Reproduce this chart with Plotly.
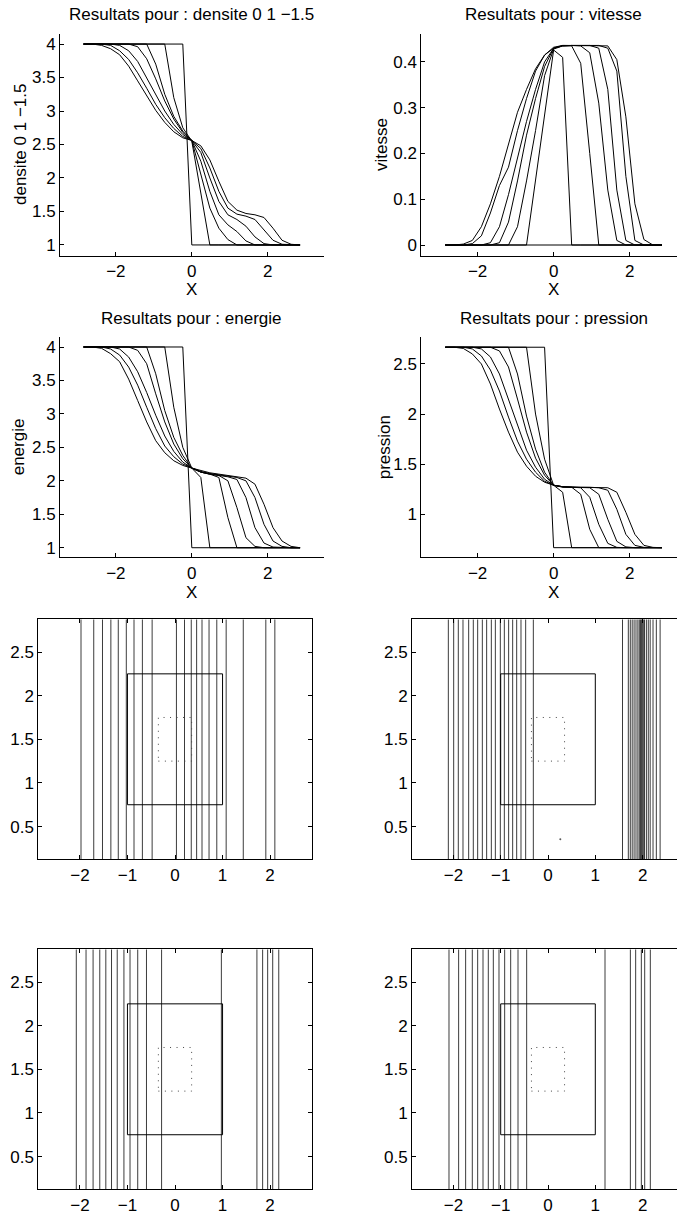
import plotly.graph_objects as go

# ---- 1D profiles: grid and curves (one list per time step) ----
X = [-2.85, -2.6125, -2.375, -2.1375, -1.9, -1.6625, -1.425, -1.1875, -0.95, -0.7125,
     -0.475, -0.2375, 0.0, 0.2375, 0.475, 0.7125, 0.95, 1.1875, 1.425, 1.6625,
     1.9, 2.1375, 2.375, 2.6125, 2.85]

DENSITE = [
    [4, 4, 4, 4, 4, 4, 4, 4, 4, 4, 4, 4, 1, 1, 1, 1, 1, 1, 1, 1, 1, 1, 1, 1, 1],
    [4, 4, 4, 4, 4, 4, 4, 4, 4, 4, 3.2, 2.75, 2.55, 1.75, 1, 1, 1, 1, 1, 1, 1, 1, 1, 1, 1],
    [4, 4, 4, 4, 4, 4, 4, 4, 3.7, 3.25, 2.92, 2.7, 2.56, 2.05, 1.55, 1.25, 1.08, 1, 1, 1, 1, 1, 1, 1, 1],
    [4, 4, 4, 4, 4, 4, 3.96, 3.78, 3.48, 3.15, 2.88, 2.68, 2.56, 2.25, 1.8, 1.45, 1.3, 1.2, 1.06, 1, 1, 1, 1, 1, 1],
    [4, 4, 4, 4, 3.98, 3.9, 3.74, 3.5, 3.24, 3.0, 2.8, 2.65, 2.56, 2.38, 2.0, 1.65, 1.45, 1.38, 1.28, 1.12, 1.02, 1, 1, 1, 1],
    [4, 4, 4, 3.98, 3.9, 3.77, 3.57, 3.34, 3.1, 2.9, 2.74, 2.62, 2.56, 2.44, 2.15, 1.8, 1.55, 1.46, 1.43, 1.38, 1.22, 1.07, 1.01, 1, 1],
    [4, 4, 3.98, 3.93, 3.84, 3.67, 3.45, 3.22, 3.01, 2.83, 2.69, 2.6, 2.56, 2.48, 2.27, 1.95, 1.65, 1.52, 1.47, 1.45, 1.41, 1.25, 1.07, 1.01, 1],
]

VITESSE = [
    [0] * 25,
    [0, 0, 0, 0, 0, 0, 0, 0, 0, 0, 0.142, 0.284, 0.426, 0.41, 0, 0, 0, 0, 0, 0, 0, 0, 0, 0, 0],
    [0, 0, 0, 0, 0, 0, 0, 0, 0.04, 0.14, 0.25, 0.37, 0.428, 0.435, 0.435, 0.397, 0.2, 0, 0, 0, 0, 0, 0, 0, 0],
    [0, 0, 0, 0, 0, 0, 0.005, 0.05, 0.14, 0.24, 0.32, 0.39, 0.43, 0.435, 0.436, 0.435, 0.42, 0.31, 0.12, 0.01, 0, 0, 0, 0, 0],
    [0, 0, 0, 0, 0, 0.005, 0.04, 0.11, 0.19, 0.27, 0.34, 0.4, 0.43, 0.435, 0.436, 0.436, 0.436, 0.43, 0.34, 0.12, 0.01, 0, 0, 0, 0],
    [0, 0, 0, 0.003, 0.02, 0.07, 0.13, 0.17, 0.25, 0.32, 0.38, 0.415, 0.432, 0.436, 0.436, 0.436, 0.436, 0.436, 0.43, 0.38, 0.15, 0.01, 0, 0, 0],
    [0, 0, 0.002, 0.01, 0.04, 0.09, 0.15, 0.22, 0.29, 0.34, 0.385, 0.415, 0.43, 0.436, 0.436, 0.436, 0.436, 0.436, 0.435, 0.405, 0.28, 0.09, 0.012, 0, 0],
]

ENERGIE = [
    [4, 4, 4, 4, 4, 4, 4, 4, 4, 4, 4, 4, 1, 1, 1, 1, 1, 1, 1, 1, 1, 1, 1, 1, 1],
    [4, 4, 4, 4, 4, 4, 4, 4, 4, 4, 3.1, 2.5, 2.19, 2.05, 1, 1, 1, 1, 1, 1, 1, 1, 1, 1, 1],
    [4, 4, 4, 4, 4, 4, 4, 4, 3.6, 3.05, 2.65, 2.38, 2.19, 2.13, 2.1, 2.05, 1.45, 1, 1, 1, 1, 1, 1, 1, 1],
    [4, 4, 4, 4, 4, 4, 3.95, 3.75, 3.3, 2.88, 2.55, 2.33, 2.19, 2.13, 2.1, 2.08, 2.0, 1.6, 1.15, 1.02, 1, 1, 1, 1, 1],
    [4, 4, 4, 4, 3.97, 3.85, 3.63, 3.32, 2.98, 2.67, 2.44, 2.28, 2.19, 2.13, 2.1, 2.08, 2.06, 2.02, 1.75, 1.3, 1.07, 1.01, 1, 1, 1],
    [4, 4, 4, 3.97, 3.88, 3.7, 3.43, 3.1, 2.78, 2.52, 2.36, 2.25, 2.19, 2.14, 2.11, 2.09, 2.07, 2.05, 2.0, 1.75, 1.35, 1.1, 1.02, 1, 1],
    [4, 4, 3.98, 3.9, 3.78, 3.52, 3.2, 2.88, 2.6, 2.42, 2.3, 2.23, 2.19, 2.15, 2.12, 2.1, 2.08, 2.06, 2.04, 1.95, 1.65, 1.3, 1.1, 1.02, 1],
]

PRESSION = [
    [2.667] * 12 + [0.667] * 13,
    [2.667] * 10 + [2.0, 1.55, 1.29, 1.22] + [0.667] * 11,
    [2.667] * 8 + [2.4, 1.98, 1.65, 1.42, 1.29, 1.27, 1.27, 1.2, 0.85, 0.667, 0.667, 0.667, 0.667, 0.667, 0.667, 0.667, 0.667],
    [2.667] * 6 + [2.63, 2.47, 2.15, 1.82, 1.56, 1.39, 1.29, 1.275, 1.27, 1.265, 1.17, 0.9, 0.71, 0.67, 0.667, 0.667, 0.667, 0.667, 0.667],
    [2.667] * 4 + [2.65, 2.57, 2.4, 2.15, 1.88, 1.64, 1.47, 1.35, 1.29, 1.275, 1.27, 1.27, 1.265, 1.2, 0.95, 0.73, 0.675, 0.667, 0.667, 0.667, 0.667],
    [2.667] * 3 + [2.65, 2.58, 2.44, 2.23, 1.97, 1.73, 1.55, 1.42, 1.33, 1.29, 1.275, 1.27, 1.27, 1.27, 1.265, 1.24, 1.05, 0.8, 0.69, 0.67, 0.667, 0.667],
    [2.667] * 2 + [2.655, 2.6, 2.5, 2.3, 2.05, 1.82, 1.62, 1.48, 1.38, 1.32, 1.29, 1.275, 1.27, 1.27, 1.27, 1.27, 1.265, 1.22, 1.02, 0.8, 0.69, 0.67, 0.667],
]

# ---- 2D maps: positions of the (vertical) iso-lines, mesh extent, boxes ----
MESH_X = [-2.875, 2.875]
MESH_Y = [0.125, 2.875]
RECT_SOLID = [-1.0, 1.0, 0.75, 2.25]
RECT_DOTTED = [-0.35, 0.35, 1.25, 1.75]

ISO_3 = [-1.977, -1.709, -1.525, -1.349, -1.193, -1.024, -0.862, -0.686, -0.481, 0.03,
         0.2, 0.342, 0.455, 0.568, 0.716, 0.879, 1.076, 1.436, 1.91, 2.1]
ISO_4 = [-2.107, -1.994, -1.896, -1.797, -1.677, -1.579, -1.487, -1.388, -1.297, -1.198,
         -1.113, -1.008, -0.923, -0.832, -0.747, -0.662, -0.571, -0.472, -0.31,
         1.575, 1.698, 1.74, 1.78, 1.82, 1.86, 1.9, 1.93, 1.955, 1.975, 1.995, 2.015,
         2.04, 2.08, 2.12, 2.16, 2.22, 2.29, 2.37]
ISO_5 = [-2.076, -1.871, -1.723, -1.582, -1.455, -1.335, -1.215, -1.074, -0.946, -0.784,
         -0.6, -0.282, 0.975, 1.723, 1.843, 1.949, 2.055, 2.182]
ISO_6 = [-2.093, -1.889, -1.741, -1.6, -1.487, -1.374, -1.262, -1.156, -1.036, -0.916,
         -0.789, -0.634, -0.451, 1.205, 1.741, 1.853, 1.973, 2.044, 2.163]
STRAY_4 = ([0.26], [0.355])

W, H = 677, 1220
FONT = 'Liberation Sans, Arial, Helvetica, sans-serif'
FS = 17


def px_x(a, b):
    return [a / W, b / W]


def px_y(top, bottom):
    return [1 - bottom / H, 1 - top / H]


fig = go.Figure()

profile_panels = [
    (1, DENSITE), (2, VITESSE), (3, ENERGIE), (4, PRESSION),
]
for idx, curves in profile_panels:
    for c in curves:
        fig.add_trace(go.Scatter(
            x=X, y=c, mode='lines', line=dict(color='black', width=1),
            xaxis=f'x{idx}', yaxis=f'y{idx}', showlegend=False, hoverinfo='skip'))


def rect_path(r):
    x0, x1, y0, y1 = r
    return [x0, x1, x1, x0, x0], [y0, y0, y1, y1, y0]


map_panels = [(5, ISO_3), (6, ISO_4), (7, ISO_5), (8, ISO_6)]
for idx, iso in map_panels:
    xs, ys = [], []
    for v in iso:
        xs += [v, v, None]
        ys += [MESH_Y[0], MESH_Y[1], None]
    fig.add_trace(go.Scatter(
        x=xs, y=ys, mode='lines', line=dict(color='rgb(60,60,60)', width=1),
        xaxis=f'x{idx}', yaxis=f'y{idx}', showlegend=False, hoverinfo='skip'))
    rx, ry = rect_path(RECT_SOLID)
    fig.add_trace(go.Scatter(
        x=rx, y=ry, mode='lines', line=dict(color='black', width=1),
        xaxis=f'x{idx}', yaxis=f'y{idx}', showlegend=False, hoverinfo='skip'))
    dx, dy = rect_path(RECT_DOTTED)
    fig.add_trace(go.Scatter(
        x=dx, y=dy, mode='lines', line=dict(color='rgb(70,70,70)', width=1, dash='1px,5.5px'),
        xaxis=f'x{idx}', yaxis=f'y{idx}', showlegend=False, hoverinfo='skip'))

fig.add_trace(go.Scatter(
    x=STRAY_4[0], y=STRAY_4[1], mode='markers', marker=dict(color='rgb(90,90,90)', size=2),
    xaxis='x6', yaxis='y6', showlegend=False, hoverinfo='skip'))

tick_common = dict(
    showgrid=False, zeroline=False, showline=True, linecolor='black', linewidth=1,
    ticks='inside', ticklen=4, tickcolor='black', tickwidth=1,
    tickfont=dict(family=FONT, size=FS, color='black'),
)

# row positions in pixels: (top, bottom)
R1 = (34, 256)
R2 = (337.3, 557.3)
R3 = (619.3, 859.3)
R4 = (949.3, 1189.3)
L12 = (60, 324)
RT12 = (421.3, 677)
L34 = (38.3, 311.7)
RT34 = (412, 677)

layout = dict(
    width=W, height=H, autosize=False,
    margin=dict(l=0, r=0, t=0, b=0),
    paper_bgcolor='white', plot_bgcolor='white',
    font=dict(family=FONT, size=FS, color='black'),
    showlegend=False,
)

ax_specs = [
    # idx, xpx, ypx, xrange, yrange, yticks
    (1, L12, R1, [-3.47, 3.48], [0.835, 4.15], [1, 1.5, 2, 2.5, 3, 3.5, 4]),
    (2, RT12, R1, [-3.48, 3.245], [-0.024, 0.461], [0, 0.1, 0.2, 0.3, 0.4]),
    (3, L12, R2, [-3.47, 3.48], [0.857, 4.145], [1, 1.5, 2, 2.5, 3, 3.5, 4]),
    (4, RT12, R2, [-3.48, 3.245], [0.571, 2.766], [1, 1.5, 2, 2.5]),
]
for idx, xp, yp, xr, yr, yt in ax_specs:
    layout[f'xaxis{idx}'] = dict(domain=px_x(*xp), range=xr, anchor=f'y{idx}',
                                 tickvals=[-2, 0, 2], **tick_common)
    layout[f'yaxis{idx}'] = dict(domain=px_y(*yp), range=yr, anchor=f'x{idx}',
                                 tickvals=yt, **tick_common)

map_specs = [
    (5, L34, R3, MESH_X, True),
    (6, RT34, R3, [MESH_X[0], 2.727], False),
    (7, L34, R4, MESH_X, True),
    (8, RT34, R4, [MESH_X[0], 2.727], False),
]
for idx, xp, yp, xr, full in map_specs:
    layout[f'xaxis{idx}'] = dict(domain=px_x(*xp), range=xr, anchor=f'y{idx}',
                                 tickvals=[-2, -1, 0, 1, 2], mirror='ticks', **tick_common)
    layout[f'yaxis{idx}'] = dict(domain=px_y(*yp), range=MESH_Y, anchor=f'x{idx}',
                                 tickvals=[0.5, 1, 1.5, 2, 2.5],
                                 mirror='ticks' if full else False, **tick_common)

fig.update_layout(**layout)

titles = [
    ('x1', 15, 'Resultats pour : densite 0 1 \u22121.5'),
    ('x2', 15, 'Resultats pour : vitesse'),
    ('x3', 318, 'Resultats pour : energie'),
    ('x4', 318, 'Resultats pour : pression'),
]
for xr, ypx, txt in titles:
    fig.add_annotation(x=0, xref=xr, y=1 - ypx / H, yref='paper', text=txt,
                       showarrow=False, xanchor='center', yanchor='middle',
                       font=dict(family=FONT, size=FS, color='black'))

for xr, ypx in [('x1', 290), ('x2', 290), ('x3', 593), ('x4', 593)]:
    fig.add_annotation(x=0, xref=xr, y=1 - ypx / H, yref='paper', text='X',
                       showarrow=False, xanchor='center', yanchor='middle',
                       font=dict(family=FONT, size=FS, color='black'))

ylabels = [
    (21, (R1[0] + R1[1]) / 2, 'densite 0 1 \u22121.5'),
    (382, (R1[0] + R1[1]) / 2, 'vitesse'),
    (18, (R2[0] + R2[1]) / 2, 'energie'),
    (384, (R2[0] + R2[1]) / 2, 'pression'),
]
for xpx, ypx, txt in ylabels:
    fig.add_annotation(x=xpx / W, xref='paper', y=1 - ypx / H, yref='paper', text=txt,
                       textangle=-90, showarrow=False, xanchor='center', yanchor='middle',
                       font=dict(family=FONT, size=FS, color='black'))

# the page's default body margin would shift the whole figure by 8px
fig.write_html("out.html", config={'displayModeBar': False},
               post_script="document.body.style.margin='0px';")
